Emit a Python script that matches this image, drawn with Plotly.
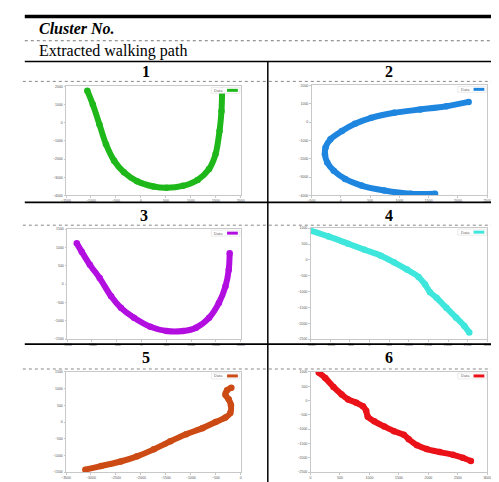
import plotly.graph_objects as go

W, H = 499, 482

# ---------------- data ----------------
cluster_labels = ["1", "2", "3", "4", "5", "6"]
series_name = "Data"

x1 = [-1074, -963, -831, -700, -537, -340, -78, 250, 512, 840, 1135, 1364, 1495, 1574, 1613, 1626]
y1 = [1764, 1000, -91, -1182, -2091, -2727, -3218, -3509, -3582, -3473, -3145, -2545, -1727, -455, 636, 1764]

x2 = [2182, 1803, 1357, 911, 520, 242, 19, -177, -260, -271, -232, -121, 74, 353, 743, 1190, 1608]
y2 = [1099, 865, 685, 504, 234, -90, -487, -937, -1387, -1748, -2198, -2649, -3099, -3459, -3730, -3910, -3910]

x3 = [-1303, -1204, -1039, -842, -612, -414, -151, 178, 507, 836, 1099, 1362, 1559, 1691, 1757, 1776]
y3 = [1113, 887, 527, 167, -329, -644, -914, -1158, -1275, -1275, -1185, -914, -509, -59, 392, 842]

x4 = [-1500, -1042, -542, -125, 292, 625, 958, 1250, 1417, 1542, 1708, 1958, 2208, 2417, 2542]
y4 = [927, 739, 509, 321, 133, -76, -306, -536, -776, -1016, -1194, -1508, -1821, -2082, -2291]

x5 = [-3113, -2799, -2405, -2078, -1743, -1409, -1095, -768, -505, -308, -210, -197, -243, -308, -275, -190]
y5 = [-1427, -1318, -1182, -1027, -818, -573, -364, -182, 0, 136, 273, 500, 682, 818, 955, 1027]

x6 = [139, 250, 389, 528, 639, 778, 889, 944, 972, 1083, 1250, 1417, 1583, 1667, 1806, 1972, 2194, 2417, 2583, 2722]
y6 = [979, 791, 478, 216, 39, -76, -202, -358, -567, -724, -902, -1069, -1194, -1351, -1560, -1696, -1800, -1894, -1999, -2113]

x_ranges = [[-1500, 2000], [-500, 2500], [-1500, 2000], [-1500, 3000], [-3500, 0], [0, 3000]]
y_ranges = [[-4000, 2000], [-4000, 2000], [-1500, 1500], [-2500, 1000], [-1500, 1500], [-2500, 1000]]
x_dticks = [500, 500, 500, 500, 500, 500]
y_dticks = [1000, 1000, 500, 500, 500, 500]

series_x = [x1, x2, x3, x4, x5, x6]
series_y = [y1, y2, y3, y4, y5, y6]
colors = ["#1fb81a", "#1f86e0", "#b20ee0", "#3ee6dc", "#cc4a14", "#ea1218"]

# ---------------- layout helpers ----------------
def px(x):
    return x / W

def py(y):
    return 1 - y / H

# plot-area boxes in pixels: (left, right, top, bottom)
boxes = [
    (54, 232, 77, 187),
    (304, 483, 76, 187),
    (55, 232, 221, 332),
    (303, 483, 220, 332),
    (54, 232, 365, 466),
    (303, 483, 365, 466),
]

fig = go.Figure()
layout = dict(
    width=W, height=H,
    margin=dict(l=0, r=0, t=0, b=0),
    paper_bgcolor="white", plot_bgcolor="white",
    showlegend=False,
    font=dict(family="Liberation Serif", color="black"),
)
shapes = []
annotations = []

for i in range(6):
    sfx = "" if i == 0 else str(i + 1)
    L, R, T, B = boxes[i]
    fig.add_trace(go.Scatter(
        x=series_x[i], y=series_y[i], name=series_name,
        mode="lines+markers",
        line=dict(color=colors[i], width=6, shape="spline", smoothing=0.8),
        marker=dict(color=colors[i], size=6.5),
        xaxis="x" + sfx, yaxis="y" + sfx,
    ))
    axstyle = dict(
        showgrid=False, zeroline=False, showline=True, mirror=True,
        linecolor="#c8c8c8", linewidth=1,
        ticks="outside", ticklen=1.5, tickcolor="#c8c8c8",
        tickfont=dict(size=3.5, color="#555", family="Liberation Sans"),
    )
    layout["xaxis" + sfx] = dict(axstyle, domain=[px(L), px(R)], range=x_ranges[i],
                                 dtick=x_dticks[i], anchor="y" + sfx)
    layout["yaxis" + sfx] = dict(axstyle, domain=[py(B), py(T)], range=y_ranges[i],
                                 dtick=y_dticks[i], anchor="x" + sfx)
    # small legend box in the top-right corner
    shapes.append(dict(type="rect", xref="paper", yref="paper",
                       x0=px(R - 30), x1=px(R - 1), y0=py(T + 7), y1=py(T + 1),
                       line=dict(color="#dddddd", width=0.6), fillcolor="white"))
    shapes.append(dict(type="line", xref="paper", yref="paper",
                       x0=px(R - 14), x1=px(R - 3), y0=py(T + 4), y1=py(T + 4),
                       line=dict(color=colors[i], width=3)))
    annotations.append(dict(text=series_name, xref="paper", yref="paper",
                            x=px(R - 16), y=py(T + 4), xanchor="right", yanchor="middle",
                            showarrow=False, font=dict(size=4, color="#666", family="Liberation Sans")))

# ---------------- table rules ----------------
def hline(y, x0, x1, width, color="black", dash="solid"):
    shapes.append(dict(type="line", xref="paper", yref="paper",
                       x0=px(x0), x1=px(x1), y0=py(y), y1=py(y),
                       line=dict(color=color, width=width, dash=dash)))

hline(6.5, 12, 499, 3.5)
hline(31, 12, 499, 1, "#777", "dot")
hline(52, 12, 499, 1.5)
hline(72, 10, 499, 1, "#888", "dot")
hline(194, 12, 499, 1.8)
hline(217, 10, 499, 1, "#888", "dot")
hline(337, 12, 499, 1.8)
hline(362, 10, 499, 1, "#888", "dot")
shapes.append(dict(type="line", xref="paper", yref="paper",
                   x0=px(259.5), x1=px(259.5), y0=py(52), y1=py(482),
                   line=dict(color="black", width=1.5)))

# ---------------- texts ----------------
annotations.append(dict(text="<b><i>Cluster No.</i></b>", xref="paper", yref="paper",
                        x=px(24), y=py(19), xanchor="left", yanchor="middle", showarrow=False,
                        font=dict(size=16, family="Liberation Serif", color="black")))
annotations.append(dict(text="Extracted walking path", xref="paper", yref="paper",
                        x=px(24), y=py(41.5), xanchor="left", yanchor="middle", showarrow=False,
                        font=dict(size=16, family="Liberation Serif", color="black")))
num_pos = [(135, 62), (383, 62), (133, 207), (383, 207), (135, 350), (383, 350)]
for lab, (nx, ny) in zip(cluster_labels, num_pos):
    annotations.append(dict(text="<b>" + lab + "</b>", xref="paper", yref="paper",
                            x=px(nx), y=py(ny), xanchor="center", yanchor="middle", showarrow=False,
                            font=dict(size=16, family="Liberation Serif", color="black")))

layout["shapes"] = shapes
layout["annotations"] = annotations
fig.update_layout(**layout)
fig.write_html("out.html")
